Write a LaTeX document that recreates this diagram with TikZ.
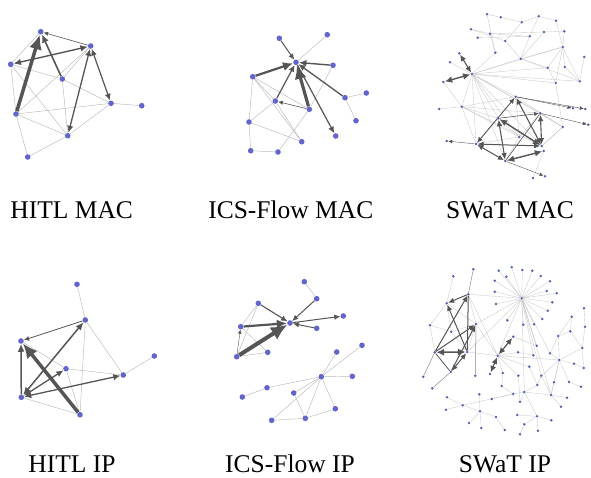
\documentclass[tikz,border=0pt]{standalone}
\usepackage{fontspec}
\setmainfont{Liberation Serif}
\usetikzlibrary{arrows.meta,backgrounds}
\definecolor{nd}{RGB}{98,102,204}
\definecolor{sn}{RGB}{80,96,180}
\definecolor{lg}{RGB}{185,185,185}
\definecolor{llg}{RGB}{200,200,200}
\definecolor{dg}{RGB}{85,85,85}
\tikzset{
  v/.style={circle,fill=nd,inner sep=0pt,minimum size=5.6pt},
  sv/.style={circle,fill=sn,inner sep=0pt,minimum size=2.8pt},
  te/.style={draw=lg,line width=0.45pt},
  tse/.style={draw=llg,line width=0.35pt},
  de/.style={draw=dg,line width=0.6pt,-{Latex[length=2.5pt 3.5,width=2.5pt 3]}},
  ar/.style={draw=dg,-{Latex[length=2.5pt 3.5,width=2.5pt 3]}},
  dar/.style={draw=dg,{Latex[length=2.5pt 3.5,width=2.5pt 3]}-{Latex[length=2.5pt 3.5,width=2.5pt 3]}},
  lab/.style={anchor=base,inner sep=0pt,font=\fontsize{25.5}{30}\selectfont}
}
\begin{document}
\begin{tikzpicture}[x=1pt,y=-1pt]
\useasboundingbox (0,0) rectangle (591,477);
% ---------- Panel 1: HITL MAC
\node[v] (a1) at (40.7,31.7) {};
\node[v] (b1) at (90.7,46) {};
\node[v] (c1) at (10.7,64.3) {};
\node[v] (d1) at (62.3,79) {};
\node[v] (e1) at (111,103.3) {};
\node[v] (f1) at (141.7,105.7) {};
\node[v] (g1) at (16,114) {};
\node[v] (h1) at (67.7,135.7) {};
\node[v] (i1) at (27.7,157) {};
% ---------- Panel 2: ICS-Flow MAC
\node[v] (a2) at (279.3,38.3) {};
\node[v] (b2) at (327.3,34.7) {};
\node[v] (h2) at (296,62.3) {};
\node[v] (c2) at (333,65.3) {};
\node[v] (d2) at (252.7,76.7) {};
\node[v] (e2) at (275.3,101) {};
\node[v] (f2) at (309.3,109.3) {};
\node[v] (g2) at (345,97.7) {};
\node[v] (hh2) at (366.3,93) {};
\node[v] (i2) at (356,120.7) {};
\node[v] (j2) at (335.7,136) {};
\node[v] (k2) at (249,122) {};
\node[v] (l2) at (301.7,141.7) {};
\node[v] (m2) at (250.7,150.7) {};
\node[v] (n2) at (278,152) {};
% ---------- Panel 3: SWaT MAC
\foreach \n/\x/\y in {T1/487/14.3,T2/500.7/17.3,T3/538.7/16.3,T4/556/20.7,T5/521.7/22.3,T6/471/29.3,T7/490/33.7,T8/544/32,T9/564.3/31.3,T10/477.7/37.7,T11/529.7/36.3,T12/505.3/41,T13/562.7/47,T14/495.3/52.7,T15/520.7/58.7,T16/584.3/57,T17/547.7/67.7,T18/564.7/67,T19/579.7/81.3,T20/555.7/83,
Q1/459.3/53.3,Q2/450/62.3,QH/472/74,Q3/443.3/82,
W1/439.3/109,W2/461.7/106.7,W3/515.7/96.7,W4/573/108.3,W5/585.3/109,W6/540.3/113.3,W7/498.3/118.3,W8/562.7/127,W9/588.3/124.7,W10/519.3/137,W11/446.7/141,W12/476/144,W13/541.7/146,W14/543.7/151,W15/505.3/161,W16/533/178,W17/545/176.3}
  \node[sv] (\n) at (\x,\y) {};
% ---------- Panel 4: HITL IP
\node[v] (p4) at (77,284.3) {};
\node[v] (q4) at (85.3,320) {};
\node[v] (r4) at (21,341) {};
\node[v] (s4) at (154.3,356) {};
\node[v] (t4) at (66,368.7) {};
\node[v] (u4) at (123.3,375) {};
\node[v] (v4) at (21.3,397.3) {};
\node[v] (w4) at (80,414.7) {};
% ---------- Panel 5: ICS-Flow IP
\node[v] (A1) at (304.3,281.7) {};
\node[v] (A2) at (316.7,298.7) {};
\node[v] (A3) at (258.3,303.3) {};
\node[v] (AH) at (290,323) {};
\node[v] (A4) at (343.3,316) {};
\node[v] (A5) at (316.7,328.3) {};
\node[v] (A6) at (240.7,326.7) {};
\node[v] (A7) at (267.7,352.3) {};
\node[v] (A8) at (236.7,356.7) {};
\node[v] (B1) at (362,345.3) {};
\node[v] (B2) at (336.7,352) {};
\node[v] (B3) at (321.3,376.7) {};
\node[v] (B4) at (352.3,376.3) {};
\node[v] (B5) at (267,387.7) {};
\node[v] (B6) at (242.3,397) {};
\node[v] (B7) at (293.7,393) {};
\node[v] (B8) at (335.3,408.7) {};
\node[v] (B9) at (305.3,418.3) {};
\node[v] (B10) at (271.7,420.3) {};
% ---------- Panel 6: SWaT IP
\foreach \n/\x/\y in {H6/521.7/298.3,
S1/511.7/267.3,S2/522.3/270,S3/532.3/270.7,S4/498.7/270.7,S5/540.7/276,S6/506.3/276.7,S7/550/281.3,S8/494.7/280.7,S9/546.7/291,S10/556.7/293.3,S11/494.7/291.7,S12/552.3/302.3,S13/496/304,S14/547.7/310.7,S15/507.3/320.3,S16/542.3/319,S17/523.3/324.7,S18/534/324.3,
L1/453.3/276.3,L2/473.3/269.3,L3/468.3/294.3,L4/446.7/303.3,L5/430/325.3,L6/451.3/331.7,L7/476/324,L8/434.7/352.3,L9/467.3/352,L10/450.7/372,L11/423.3/376.7,L12/432.3/388.3,L13/475.3/375.7,
M1/497.7/355.7,M2/513.3/336.7,M3/490/374,M4/518/352.3,
R1/571.7/316.7,R2/584/308.3,R3/585/326.7,R4/570.3/331.3,R5/558.3/336,R6/582.3/348,R7/550/353.3,R8/559.3/360,R9/574/363.7,R10/583.7/368,R11/569/382,R12/581/386.7,
D1/536.7/345.7,D2/533.3/355.3,D3/529.3/366.7,D4/541.3/375.7,D5/518.3/375.7,D6/502.7/373,D7/501.7/386,D8/537.3/385,D9/554/382.3,D10/524.3/392,D11/513.3/394,D12/551/395,D13/567/397.7,D14/520/401.7,D15/561/406.7,D16/537/416.3,D17/551.3/420.3,D18/517.3/415,D19/524.3/424.3,D20/538/430.7,D21/520/434.3,D22/504.7/430,D23/491.7/399,D24/479.3/394.3,D25/462.7/405.3,D26/447/397.3,D27/446/409.7,D28/480/411.3,D29/496/417,D30/469/423,D31/481.3/428}
  \node[sv] (\n) at (\x,\y) {};
% ---------- labels
\node[lab] (lbA) at (71.7,218) {HITL MAC};
\node[lab] (lbB) at (290.8,218) {ICS-Flow MAC};
\node[lab] (lbC) at (510,218) {SWaT MAC};
\node[lab] (lbD) at (72,472) {HITL IP};
\node[lab] (lbE) at (290,472) {ICS-Flow IP};
\node[lab] (lbF) at (505,472) {SWaT IP};

\begin{pgfonlayer}{background}
% ===== Panel 1 edges
\foreach \a/\b in {a1/c1,c1/g1,c1/d1,d1/e1,c1/h1,g1/b1,g1/e1,g1/h1,i1/g1,i1/h1,d1/h1,e1/f1,h1/e1,b1/d1}
  \draw[te] (\a) -- (\b);
\draw[ar,line width=3.5pt] (g1) -- (a1);
\draw[ar,line width=1.6pt] (d1) -- (a1);
\draw[dar,line width=1.4pt] (c1) -- (b1);
\draw[dar,line width=1.3pt] (h1) -- (b1);
\draw[dar,line width=1.2pt] (e1) -- (b1);
\draw[de] (b1) -- (a1);
% ===== Panel 2 edges
\foreach \a/\b in {b2/h2,c2/f2,g2/hh2,g2/i2,d2/k2,d2/e2,d2/f2,d2/l2,k2/e2,k2/l2,k2/m2,m2/n2,n2/f2,e2/l2}
  \draw[te] (\a) -- (\b);
\draw[de] (f2) -- (e2);
\draw[ar,line width=1pt] (a2) -- (h2);
\draw[ar,line width=1.4pt] (c2) -- (h2);
\draw[ar,line width=2.2pt] (d2) -- (h2);
\draw[ar,line width=1.2pt] (e2) -- (h2);
\draw[ar,line width=3.2pt] (f2) -- (h2);
\draw[ar,line width=1.3pt] (g2) -- (h2);
\draw[ar,line width=1.2pt] (h2) -- (j2);
% ===== Panel 3 edges
\foreach \a/\b in {T1/T2,T1/T14,T2/T5,T5/T3,T3/T4,T3/T11,T4/T13,T5/T12,T6/T7,T7/T11,T7/T8,T8/T9,T9/T13,T12/T15,T11/T15,T13/T15,T13/T17,T13/T19,T13/T20,T13/T18,T15/T19,T15/T17,T16/T19,T18/T19,T14/T7,T6/T12,T10/T11,T8/T15,T17/T20,
QH/T15,QH/T13,QH/T17,QH/T19,QH/T20,QH/T14,Q2/QH,
QH/W2,QH/W7,QH/W12,QH/W15,QH/W3,QH/W10,QH/W13,QH/W6,QH/W8,W2/W1,W2/Q3,W2/W3,W2/W6,W2/W12,W2/W13,W2/W7,W2/W10,W12/W10,W10/W6,W8/W13,T20/W8,W7/W10,W3/W10,W12/W7,W15/W10,W15/W14,W13/W8,W14/W16,W3/W8,W6/W8}
  \draw[tse] (\a) -- (\b);
\foreach \a/\b in {W3/W4,W3/W5,W6/W9,W12/W11,W15/W17}
  \draw[de,line width=0.4pt] (\a) -- (\b);
\draw[dar,line width=1.1pt] (Q1) -- (QH);
\draw[dar,line width=1.4pt] (Q3) -- (QH);
\draw[dar,line width=0.9pt] (W3) -- (W12);
\draw[dar,line width=1.1pt] (W3) -- (W13);
\draw[dar,line width=1.1pt] (W7) -- (W15);
\draw[dar,line width=1.4pt] (W7) -- (W13);
\draw[dar,line width=1.1pt] (W13) -- (W6);
\draw[dg,line width=0.6pt] (W15) -- (W6);
\draw[dar,line width=1pt] (W12) -- (W13);
\draw[dar,line width=1.4pt] (W15) -- (W14);
\draw[dar,line width=1pt] (W12) -- (W15);
\draw[de] (W7) -- (W6);
% ===== Panel 4 edges
\foreach \a/\b in {p4/q4,q4/w4,q4/u4,u4/s4,t4/u4,t4/w4,r4/t4,v4/w4}
  \draw[te] (\a) -- (\b);
\draw[ar,line width=0.8pt] (q4) -- (r4);
\draw[dar,line width=1.5pt] (v4) -- (q4);
\draw[ar,line width=3.5pt] (w4) -- (r4);
\draw[ar,line width=1.5pt] (v4) -- (r4);
\draw[dar,line width=1.3pt] (u4) -- (v4);
\draw[dar,line width=1.3pt] (t4) -- (v4);
% ===== Panel 5 edges
\foreach \a/\b in {A1/A2,A3/A6,A3/A8,A6/A7,A8/A7,B3/B1,B3/B2,B3/B4,B3/B5,B5/B6,B3/B7,B3/B10,B3/B9,B3/B8,B7/B9,B9/B8,B10/B9}
  \draw[te] (\a) -- (\b);
\draw[de,line width=0.4pt] (A8) -- (A6);
\draw[ar,line width=1pt] (A2) -- (AH);
\draw[ar,line width=1.1pt] (A3) -- (AH);
\draw[ar,line width=1pt] (AH) -- (A4);
\draw[ar,line width=1pt] (A5) -- (AH);
\draw[ar,line width=2.2pt] (A6) -- (AH);
\draw[ar,line width=4pt] (A8) -- (AH);
% ===== Panel 6 edges
\foreach \a/\b in {H6/S1,H6/S2,H6/S3,H6/S4,H6/S5,H6/S6,H6/S7,H6/S8,H6/S9,H6/S10,H6/S11,H6/S12,H6/S13,H6/S14,H6/S15,H6/S16,H6/S17,H6/S18,
H6/L3,H6/L7,H6/M1,H6/D1,H6/D2,H6/D4,H6/D10,H6/D12,H6/R7,H6/L9,
L1/L4,L4/L5,L5/L6,L5/L8,L4/L6,L6/L7,L6/L9,L3/L7,L4/L7,L7/L9,L7/M1,L9/M1,L3/M1,
M1/M4,M1/R8,M1/D6,M1/D5,M1/D3,M4/D2,M2/D1,
R1/R4,R1/R5,R2/R3,R3/R6,R4/R6,R4/R5,R5/R8,R5/R7,R8/R9,R8/R11,R6/R10,R8/R6,R7/R8,R9/R10,R11/R12,R8/D4,R8/D12,R8/D9,
D3/D8,D4/D8,D4/D12,D8/D10,D10/D11,D10/D16,D10/D12,D10/D14,D12/D13,D12/D15,D12/D9,D16/D18,D16/D17,D16/D20,D16/D19,D19/D21,D11/D25,D11/D23,D25/D26,D25/D27,D25/D28,D28/D30,D28/D31,D28/D24,D28/D29,D29/D22,D6/D7,D7/D11,D5/D14}
  \draw[tse] (\a) -- (\b);
\foreach \a/\b in {L8/L11,L10/L12,L7/L13,L2/L3}
  \draw[draw=dg!70,line width=0.5pt] (\a) -- (\b);
\draw[ar,line width=1pt] (L3) -- (L4);
\draw[ar,line width=1pt] (L8) -- (L3);
\draw[ar,line width=1pt] (L9) -- (L4);
\draw[dg,line width=1pt] (L3) -- (L9);
\draw[ar,line width=1pt] (L8) -- (L7);
\draw[dar,line width=1.5pt] (L8) -- (L9);
\draw[ar,line width=1pt] (L10) -- (L7);
\draw[dar,line width=1pt] (L10) -- (L9);
\draw[dg,line width=0.8pt] (L10) -- (L8);
\draw[dar,line width=1.2pt] (M1) -- (M2);
\draw[dar,line width=1.2pt] (M1) -- (M3);
\end{pgfonlayer}
\end{tikzpicture}
\end{document}
